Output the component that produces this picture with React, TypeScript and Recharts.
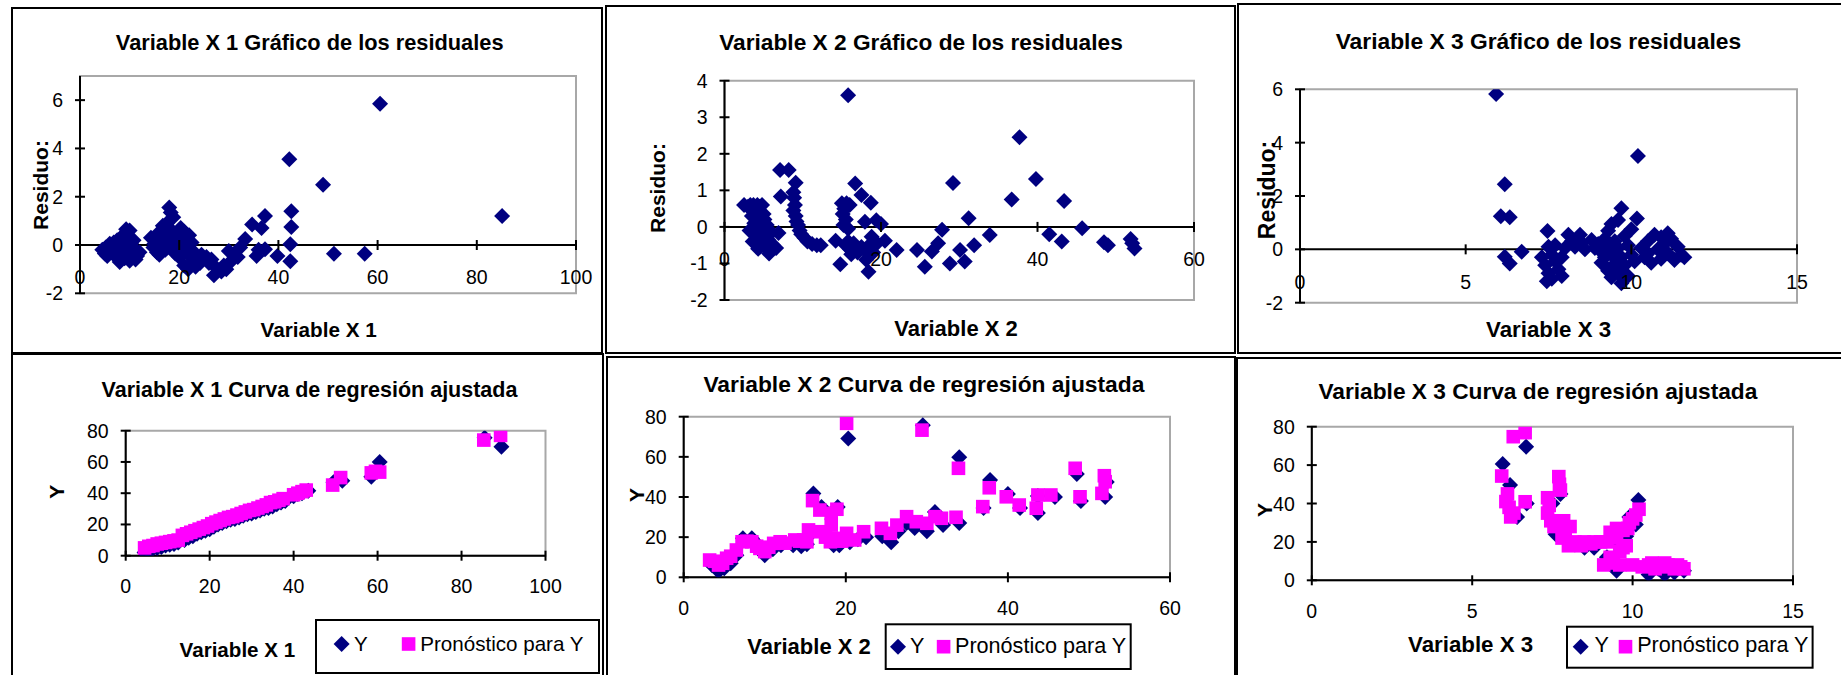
import React from "react";
import {
  ScatterChart, Scatter, XAxis, YAxis, ReferenceLine, ReferenceArea,
} from "recharts";

const FONT = '"Liberation Sans", Arial, sans-serif';
const NAVY = "#000080";
const PINK = "#ff00ff";
const GREY = "#a8a8a8";

// ---- tick values ----
const X1_TICKS = [0, 20, 40, 60, 80, 100];
const X2_TICKS = [0, 20, 40, 60];
const X3_TICKS = [0, 5, 10, 15];
const RES1_TICKS = [-2, 0, 2, 4, 6];
const RES2_TICKS = [-2, -1, 0, 1, 2, 3, 4];
const RES3_TICKS = [-2, 0, 2, 4, 6];
const Y_TICKS = [0, 20, 40, 60, 80];

// ---- residuals vs X1 ----
const res1: [number, number][] = [
  [4.5, -0.2], [5, -0.35], [5.2, -0.1], [5.5, -0.45], [6, -0.25], [6, 0.05], [6.5, -0.3], [6.8, 0.1],
  [7, -0.15], [7.3, -0.5], [7.5, 0.2], [7.8, -0.05], [8, -0.7], [8.2, 0.3], [8.5, -0.35], [8.7, 0.1],
  [9, 0.45], [9, -0.55], [9.3, 0.65], [9.5, -0.2], [9.7, 0.3], [10, 0.6], [10, -0.65], [10.3, 0.05],
  [10.5, -0.4], [10.8, 0.2], [11, -0.2], [11.2, -0.6], [11.5, -0.45], [12, -0.3],
  [14.3, 0.3], [14.8, -0.1], [15, 0.05], [15.5, -0.3], [15.8, 0.5], [16, -0.4], [16.3, 0.2], [16.7, 0.8],
  [17, 0.35], [17.2, -0.2], [17.5, 0.9], [17.8, 0.1], [18, 1.55], [18.3, 1.35], [18.5, 0.6], [18.8, 1.15],
  [19, 0.05], [19.2, -0.35], [19.5, 0.3], [19.8, -0.15], [20, -0.5], [20.3, 0.7], [20.5, 0.15], [20.8, -0.3],
  [21, 0.55], [21, -0.85], [21.3, 0.35], [21.5, -0.1], [21.8, -1.0], [22, 0.4], [22.2, -0.45], [22.5, 0.1],
  [22.7, -0.7], [23, -0.3], [23.3, -0.9], [23.8, -0.55], [24.2, -0.75], [24.5, -0.4],
  [25.5, -0.5], [26, -0.75], [26.5, -0.6], [27, -1.25], [27.5, -0.95], [28.5, -1.1], [29, -0.85], [29.5, -1.0],
  [30, -0.25], [30.3, -0.7], [31, -0.4], [31.8, -0.5], [32.3, -0.1], [33.3, 0.25], [34.7, 0.85], [35.6, -0.45],
  [36, -0.2], [36.6, 0.7], [37.3, 1.2], [37.3, -0.18], [39.8, -0.45], [42.2, 3.55], [42.6, 1.4], [42.6, 0.75],
  [42.4, 0.03], [42.4, -0.67], [49, 2.5], [51.2, -0.36], [57.4, -0.36], [60.5, 5.85], [85.1, 1.2],
];

// ---- residuals vs X2 ----
const res2: [number, number][] = [
  [2.5, 0.6], [3, 0.55], [3.3, 0.6], [3.7, 0.6], [4, 0.45], [4.2, 0.6], [4.5, 0.55], [4.8, 0.6], [5, 0.35],
  [3.5, 0.3], [3.8, 0.1], [4, -0.1], [4.2, -0.3], [4.4, 0.2], [4.6, -0.45], [4.8, 0.0], [5, -0.25], [5.2, -0.55],
  [5.4, 0.05], [5.6, -0.35], [5.7, -0.73], [6, -0.15], [6.2, -0.5], [6.6, -0.58], [6.9, -0.17], [3.2, -0.1],
  [3.6, -0.4], [4.3, -0.6], [5.1, 0.2], [5.3, -0.1],
  [7.2, 0.83], [7.1, 1.56], [8.2, 1.56], [9.1, 1.21], [8.8, 0.95], [8.9, 0.8], [9.0, 0.6], [8.8, 0.45], [9.1, 0.3],
  [9.2, 0.15], [9.4, 0.05], [9.6, -0.1], [9.8, -0.2], [10.2, -0.3], [10.6, -0.4], [11.2, -0.47], [11.8, -0.5],
  [12.3, -0.5], [14.2, -0.38], [14.8, -1.02],
  [15, 0.65], [15.3, 0.5], [15.1, 0.35], [15.6, 0.65], [15.5, 0.2], [15.2, 0.05], [16, 0.6], [15.8, -0.05],
  [16.7, 1.19], [17.5, 0.87], [18.7, 0.66], [17.95, 0.14], [19.4, 0.18], [20, 0.08], [18.8, -0.27], [20.5, -0.38],
  [18.1, -0.9], [18.4, -1.23], [15.5, -0.5], [16, -0.6], [16.5, -0.45], [17, -0.7], [17.5, -0.55], [18, -0.65],
  [18.5, -0.5], [19, -0.7], [19.5, -0.45], [16.2, -0.75], [15.8, -0.4],
  [15.8, 3.6], [22, -0.63], [24.6, -0.63], [25.6, -1.09], [26.5, -0.67], [27.3, -0.45], [27.8, -0.08], [29.2, 1.2],
  [28.8, -1.0], [30.1, -0.63], [30.7, -0.95], [31.2, 0.24], [31.9, -0.5], [33.9, -0.22], [36.7, 0.75], [37.7, 2.45],
  [39.8, 1.31], [41.5, -0.2], [43.4, 0.71], [43.1, -0.4], [45.7, -0.04], [48.5, -0.42], [49, -0.5], [51.9, -0.33],
  [52.4, -0.59], [52.1, -0.45],
];

// ---- residuals vs X3 ----
const res3: [number, number][] = [
  [5.92, 5.82], [6.18, 2.44], [6.06, 1.24], [6.33, 1.2], [6.18, -0.28], [6.33, -0.53], [6.69, -0.09], [7.47, 0.69],
  [7.3, -0.3], [7.4, -0.6], [7.5, -0.9], [7.5, 0.1], [7.6, -0.2], [7.6, -1.1], [7.7, -0.45], [7.7, 0.15],
  [7.8, -0.75], [7.9, -0.3], [7.9, -1.0], [8.0, 0.05], [7.45, -1.2],
  [8.1, 0.55], [8.2, 0.3], [8.3, 0.1], [8.45, 0.55], [8.5, 0.25], [8.6, 0.0], [8.8, 0.35], [8.9, 0.05],
  [9.0, 0.2], [9.1, -0.1], [9.1, -0.5], [9.2, 0.4], [9.2, -0.3], [9.3, 0.7], [9.3, 0.0], [9.3, -0.8],
  [9.4, 0.95], [9.4, -0.2], [9.4, -1.05], [9.5, 0.3], [9.5, -0.55], [9.6, 1.1], [9.6, 0.05], [9.6, -0.9],
  [9.7, 1.54], [9.7, -0.3], [9.7, -1.27], [9.8, 0.5], [9.8, -0.6], [9.9, 0.15], [9.9, -1.0], [10.0, -0.2],
  [10.0, 0.75], [10.17, 1.16], [10.1, -0.45], [10.2, 3.5],
  [10.3, 0.05], [10.4, -0.3], [10.5, 0.3], [10.6, -0.5], [10.7, 0.55], [10.8, 0.0], [10.9, 0.45], [10.9, -0.35],
  [11.0, 0.2], [11.1, -0.15], [11.2, 0.4], [11.3, -0.4], [11.4, 0.1], [11.5, -0.2], [11.6, -0.3], [10.5, -0.15],
  [11.1, 0.6],
];

// ---- Y and fitted Y vs X1 ----
const fit1Y: [number, number][] = [
  [4.5, 2], [5.5, 3], [6.5, 4.5], [7.5, 5], [8.5, 5.5], [9.5, 6.5], [10.5, 7], [11.5, 7.5], [12.5, 8.5],
  [14, 10], [15, 11.5], [16, 12.5], [17, 14], [18, 15], [19, 16], [20, 17], [21, 18.5], [22, 20], [23, 21],
  [24, 22], [25, 23], [26, 23.5], [27, 24.5], [28, 25.5], [29, 26.5], [30, 27], [31, 28], [32, 29], [33, 30],
  [34, 30.5], [35, 31.5], [36, 33], [37, 34], [38, 35], [40, 38], [41, 39.5], [42, 40], [43.5, 41.5],
  [49.5, 47], [51.6, 48], [58.5, 50.5], [60.5, 60], [85.5, 75.5], [89.5, 69.8],
];
const fit1Pred: [number, number][] = [
  [4.5, 5], [5.5, 6], [6.5, 6.5], [7.5, 7.5], [8.5, 8], [9.5, 8.5], [10.5, 9], [11.5, 9.5], [12.5, 10],
  [13.5, 13], [14.5, 14], [15.5, 15], [16.5, 16], [17.5, 17], [18.5, 18], [19.5, 19], [20.5, 20.5], [21.5, 21.5],
  [22.5, 22.5], [23.5, 23.5], [24.5, 24.5], [25.5, 25], [26.5, 26], [27.5, 27], [28.5, 28], [29.5, 29],
  [30.5, 29.5], [31.5, 30.5], [32.5, 31.5], [33.5, 32.5], [34.5, 34], [35.5, 34.5], [36.5, 35.5], [37.5, 36.5],
  [40, 39], [41, 40], [42, 41], [43, 42], [49.3, 45.2], [51.2, 50], [58.5, 53], [59.5, 54], [60.5, 53.5],
  [85.3, 74], [89.3, 77],
];

// ---- Y and fitted Y vs X2 ----
const fit2Y: [number, number][] = [
  [3.5, 6], [4.3, 3], [5, 4.5], [5.8, 7], [6.5, 11], [7.3, 19.5], [8.4, 19.5], [9.2, 16], [10, 11], [11, 14],
  [12, 16], [13.5, 16], [14.5, 15.5], [15.2, 16.5], [15.5, 21], [16, 41.8], [17, 35], [17.5, 22], [18.5, 16],
  [19, 35], [19.2, 16], [20.3, 69.2], [20.5, 17.5], [21.5, 19], [22.5, 20], [24.5, 20.5], [25.6, 17.5],
  [26.5, 23], [27.5, 27], [28.5, 24.5], [29.5, 75.8], [30, 23], [31, 32.5], [32, 26], [34, 59.8], [34, 27],
  [37, 34.5], [37.8, 48.5], [40, 41.5], [41.5, 34.5], [43.7, 32], [43.7, 40.5], [45.8, 40], [48.5, 51.5],
  [49, 38], [52, 40], [52.2, 47.5],
];
const fit2Pred: [number, number][] = [
  [3.2, 8.6], [3.8, 8], [4.3, 6.1], [4.8, 7], [5.3, 9.5], [5.8, 10.5], [6.5, 13.6], [7.2, 17.7], [7.8, 18],
  [8.4, 17.7], [9.0, 15.5], [9.4, 14.4], [10, 12.8], [10.5, 15], [11.1, 16.9], [11.9, 17.7], [12.5, 17],
  [13.7, 18.6], [14.3, 18], [14.8, 18.6], [15.2, 17.7], [15.4, 23.6], [15.9, 38.2], [16.8, 33.5], [16.8, 22.7],
  [17.5, 20], [18.1, 17.7], [18.2, 31.9], [18.9, 33.9], [18.2, 26], [18.9, 19.4], [19.5, 18], [20.1, 21.9],
  [20.1, 76.7], [21.1, 18.6], [22.2, 22.7], [24.4, 24.4], [25.5, 21.9], [26.3, 26], [27.5, 30.2], [28.7, 27.7],
  [29.4, 73.3], [30, 26.9], [31, 30.2], [31.8, 29.4], [33.6, 29.9], [33.9, 54.3], [36.9, 35.2], [37.7, 44.6],
  [39.8, 40.1], [41.4, 36], [43.5, 34.4], [43.7, 41], [45.3, 41], [48.3, 54.3], [48.9, 40.1], [51.6, 41.8],
  [51.9, 50.6], [52, 47.6],
];

// ---- Y and fitted Y vs X3 ----
const fit3Y: [number, number][] = [
  [6.68, 69.6], [5.95, 60.6], [6.18, 49.6], [10.18, 41.8], [6.4, 33], [6.7, 40], [7.75, 45], [7.6, 24],
  [8.5, 17], [8.8, 17], [9.8, 23], [10.5, 3], [11, 3], [9.5, 5], [11.6, 5], [9.2, 12], [10.1, 29], [9.9, 33],
  [7.5, 40], [8, 21], [9.5, 20], [10.8, 6], [11.3, 4],
];
const fit3Pred: [number, number][] = [
  [6.28, 74.8], [6.65, 76.9], [5.92, 54.3], [6.1, 45], [6.05, 41], [6.15, 38], [6.3, 35], [6.2, 33], [6.65, 40.9],
  [7.7, 54], [7.72, 50], [7.75, 47], [7.35, 43], [7.4, 39], [7.35, 35], [7.45, 31], [7.55, 28], [7.85, 31],
  [8.05, 28], [7.9, 25], [7.8, 22], [8.2, 20], [8.5, 20], [8.8, 20], [9.0, 20], [8.0, 18], [8.4, 18], [8.7, 19],
  [9.3, 25], [9.5, 27], [9.7, 26], [9.5, 22], [9.8, 18], [9.6, 15], [9.3, 12], [9.1, 8], [9.4, 9], [9.7, 17],
  [10.1, 34], [10.2, 37], [10.0, 32], [9.9, 30], [9.85, 27], [9.2, 20], [9.6, 8], [10, 8], [10.3, 7], [10.5, 8],
  [10.7, 6], [10.9, 7], [11.1, 8], [11.3, 6], [11.5, 7], [11.6, 6], [10.6, 9], [11.0, 9], [11.4, 8],
];

const toXY = (pts: [number, number][]) => pts.map(([x, y]) => ({ x, y }));

const DiamondShape = (p: any) => {
  const r = 8;
  const { cx, cy } = p;
  return <path d={`M${cx},${cy - r}L${cx + r},${cy}L${cx},${cy + r}L${cx - r},${cy}Z`} fill={NAVY} />;
};
const SquareShape = (p: any) => <rect x={p.cx - 6.8} y={p.cy - 6.8} width={13.6} height={13.6} fill={PINK} />;

type Series = { name: string; data: [number, number][]; kind: "diamond" | "square" };
type Panel = {
  box: [number, number, number, number];
  plot: [number, number, number, number];
  xDomain: [number, number];
  xTicks: number[];
  yDomain: [number, number];
  yTicks: number[];
  zero: boolean;
  labelGap: number;
  series: Series[];
};

const panels: Panel[] = [
  { box: [11, 7, 592, 347], plot: [80, 76, 576, 293.3], xDomain: [0, 100], xTicks: X1_TICKS, yDomain: [-2, 7], yTicks: RES1_TICKS, zero: true, labelGap: 32, series: [{ name: "res", data: res1, kind: "diamond" }] },
  { box: [605, 5, 631, 349], plot: [724.5, 80.7, 1194, 300], xDomain: [0, 60], xTicks: X2_TICKS, yDomain: [-2, 4], yTicks: RES2_TICKS, zero: true, labelGap: 32, series: [{ name: "res", data: res2, kind: "diamond" }] },
  { box: [1237, 3, 610, 351], plot: [1300, 89.3, 1797, 302.7], xDomain: [0, 15], xTicks: X3_TICKS, yDomain: [-2, 6], yTicks: RES3_TICKS, zero: true, labelGap: 33, series: [{ name: "res", data: res3, kind: "diamond" }] },
  { box: [11, 353, 593, 330], plot: [125.7, 430.7, 545.5, 555.7], xDomain: [0, 100], xTicks: X1_TICKS, yDomain: [0, 80], yTicks: Y_TICKS, zero: false, labelGap: 30, series: [{ name: "Y", data: fit1Y, kind: "diamond" }, { name: "Pronóstico para Y", data: fit1Pred, kind: "square" }] },
  { box: [606, 356, 630, 330], plot: [683.7, 416.7, 1170, 577.3], xDomain: [0, 60], xTicks: X2_TICKS, yDomain: [0, 80], yTicks: Y_TICKS, zero: false, labelGap: 31, series: [{ name: "Y", data: fit2Y, kind: "diamond" }, { name: "Pronóstico para Y", data: fit2Pred, kind: "square" }] },
  { box: [1236, 357, 610, 330], plot: [1311.8, 426.7, 1793, 580.3], xDomain: [0, 15], xTicks: X3_TICKS, yDomain: [0, 80], yTicks: Y_TICKS, zero: false, labelGap: 31, series: [{ name: "Y", data: fit3Y, kind: "diamond" }, { name: "Pronóstico para Y", data: fit3Pred, kind: "square" }] },
];

const TICK_FS = 19.5;

function PanelChart({ cfg }: { cfg: Panel }) {
  const [bl, bt, bw, bh] = cfg.box;
  const [pl, pt, pr, pb] = cfg.plot;
  const ox = bl + 2, oy = bt + 2;
  const W = bw - 4, H = bh - 4;
  const xAxisH = 20;
  const top = pt - oy;
  const yAxisW = pl - ox;
  const right = ox + W - pr;
  const bottom = oy + H - pb - xAxisH;
  const plotH = pb - pt;
  const [y0, y1] = cfg.yDomain;
  const axisY = cfg.zero ? top + (y1 / (y1 - y0)) * plotH : top + plotH;
  const axisX = yAxisW;

  const xTick = (p: any) => (
    <g>
      <line x1={p.x} x2={p.x} y1={axisY - 5} y2={axisY + 5} stroke="#000" strokeWidth={2} />
      <text x={p.x} y={axisY + cfg.labelGap + 7} textAnchor="middle" fontSize={TICK_FS} fontFamily={FONT} fill="#000">
        {p.payload.value}
      </text>
    </g>
  );
  const yTick = (p: any) => (
    <g>
      <line x1={axisX - 5} x2={axisX + 5} y1={p.y} y2={p.y} stroke="#000" strokeWidth={2} />
      <text x={axisX - 17} y={p.y + 7} textAnchor="end" fontSize={TICK_FS} fontFamily={FONT} fill="#000">
        {p.payload.value}
      </text>
    </g>
  );

  return (
    <div style={{ position: "absolute", left: ox, top: oy, width: W, height: H }}>
      <ScatterChart width={W} height={H} margin={{ top, right, bottom, left: 0 }}>
        <ReferenceArea
          x1={cfg.xDomain[0]} x2={cfg.xDomain[1]} y1={y0} y2={y1}
          fill="none" fillOpacity={0} stroke={GREY} strokeWidth={2} ifOverflow="visible"
        />
        <XAxis
          type="number" dataKey="x" domain={cfg.xDomain} ticks={cfg.xTicks} interval={0} height={xAxisH}
          axisLine={cfg.zero ? false : { stroke: "#000", strokeWidth: 2 }} tickLine={false} tick={xTick}
          allowDataOverflow
        />
        <YAxis
          type="number" dataKey="y" domain={cfg.yDomain} ticks={cfg.yTicks} interval={0} width={yAxisW}
          axisLine={{ stroke: "#000", strokeWidth: 2 }} tickLine={false} tick={yTick}
          allowDataOverflow
        />
        {cfg.zero && <ReferenceLine y={0} stroke="#000" strokeWidth={2} ifOverflow="visible" />}
        {cfg.series.map((s) => (
          <Scatter
            key={s.name}
            name={s.name}
            data={toXY(s.data)}
            isAnimationActive={false}
            shape={s.kind === "diamond" ? DiamondShape : SquareShape}
          />
        ))}
      </ScatterChart>
    </div>
  );
}

// texts: [text, x, baseline y, size]
const TITLES: [string, number, number, number][] = [
  ["Variable X 1 Gráfico de los residuales", 309.7, 50, 21.8],
  ["Variable X 2 Gráfico de los residuales", 921, 50, 22.7],
  ["Variable X 3 Gráfico de los residuales", 1538.4, 49.3, 22.8],
  ["Variable X 1 Curva de regresión ajustada", 309.5, 396.7, 21.5],
  ["Variable X 2 Curva de regresión ajustada", 923.9, 391.7, 22.8],
  ["Variable X 3 Curva de regresión ajustada", 1537.9, 399, 22.7],
];
const X_TITLES: [string, number, number, number][] = [
  ["Variable X 1", 318.7, 336.7, 20.7],
  ["Variable X 2", 956, 336, 22],
  ["Variable X 3", 1548.6, 336.7, 22.3],
  ["Variable X 1", 237.4, 656.7, 20.6],
  ["Variable X 2", 809, 654.3, 22],
  ["Variable X 3", 1470.6, 652.3, 22.3],
];
const Y_TITLES: [string, number, number, number][] = [
  ["Residuo:", 40.8, 185, 21],
  ["Residuo:", 657, 188, 21],
  ["Residuo:", 1267, 190, 23],
  ["Y", 56.4, 491.7, 21],
  ["Y", 636, 495, 21],
  ["Y", 1264.7, 510, 21],
];
// legend: box x, y, w, h, diamond x, Y text x, square x, text x, item center y, baseline, size
const LEGENDS = [
  { bx: 316, by: 620, bw: 283, bh: 53, dx: 341.6, tx1: 354, sx: 408.6, tx2: 420.2, cy: 644, base: 651, fs: 20.6 },
  { bx: 885.7, by: 624.3, bw: 245, bh: 44.7, dx: 898, tx1: 910, sx: 943.6, tx2: 955, cy: 646.7, base: 653.3, fs: 21.6 },
  { bx: 1567, by: 626.7, bw: 245.6, bh: 41, dx: 1580.7, tx1: 1594.4, sx: 1625.5, tx2: 1637.2, cy: 646.7, base: 652.3, fs: 21.6 },
];

export default function App() {
  return (
    <div style={{ position: "absolute", left: 0, top: 0, width: 1841, height: 675, overflow: "hidden", background: "#fff" }}>
      {panels.map((p, i) => (
        <div
          key={"b" + i}
          style={{
            position: "absolute", left: p.box[0], top: p.box[1], width: p.box[2], height: p.box[3],
            border: "2px solid #000", boxSizing: "border-box",
          }}
        />
      ))}
      {panels.map((p, i) => (
        <PanelChart key={"c" + i} cfg={p} />
      ))}
      <svg width={1841} height={675} style={{ position: "absolute", left: 0, top: 0, pointerEvents: "none" }}>
        {TITLES.map(([t, x, y, fs], i) => (
          <text key={"t" + i} x={x} y={y} textAnchor="middle" fontFamily={FONT} fontWeight="bold" fontSize={fs}>{t}</text>
        ))}
        {X_TITLES.map(([t, x, y, fs], i) => (
          <text key={"x" + i} x={x} y={y} textAnchor="middle" fontFamily={FONT} fontWeight="bold" fontSize={fs}>{t}</text>
        ))}
        {Y_TITLES.map(([t, x, y, fs], i) => (
          <text
            key={"y" + i}
            transform={`translate(${x},${y}) rotate(-90)`}
            y={0.36 * fs}
            textAnchor="middle" fontFamily={FONT} fontWeight="bold" fontSize={fs}
          >
            {t}
          </text>
        ))}
        {LEGENDS.map((l, i) => (
          <g key={"l" + i}>
            <rect x={l.bx} y={l.by} width={l.bw} height={l.bh} fill="#fff" stroke="#000" strokeWidth={2} />
            <DiamondShape cx={l.dx} cy={l.cy} />
            <text x={l.tx1} y={l.base} fontFamily={FONT} fontSize={l.fs}>Y</text>
            <SquareShape cx={l.sx} cy={l.cy} />
            <text x={l.tx2} y={l.base} fontFamily={FONT} fontSize={l.fs}>Pronóstico para Y</text>
          </g>
        ))}
      </svg>
    </div>
  );
}
